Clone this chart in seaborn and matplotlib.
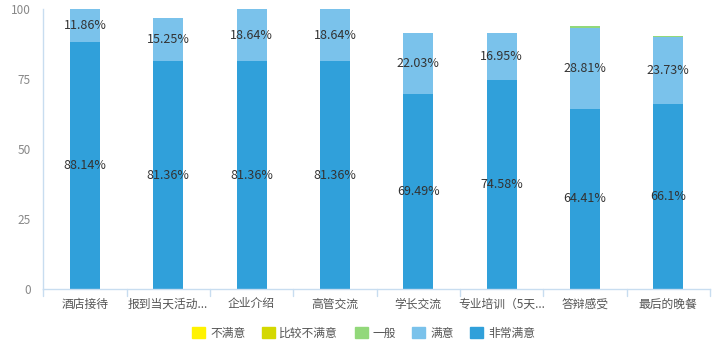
import numpy as np
import pandas as pd
import seaborn as sns
import matplotlib.pyplot as plt

categories = ['酒店接待', '报到当天活动...', '企业介绍', '高管交流', '学长交流', '专业培训（5天...', '答辩感受', '最后的晚餐']
series = ['不满意', '比较不满意', '一般', '满意', '非常满意']
colors = ['#FFF200', '#D4D800', '#92D87A', '#7AC2EB', '#30A0DA']

very_satisfied = [88.14, 81.36, 81.36, 81.36, 69.49, 74.58, 64.41, 66.1]
satisfied = [11.86, 15.25, 18.64, 18.64, 22.03, 16.95, 28.81, 23.73]
neutral = [0, 0, 0, 0, 0, 0, 0.6, 0.5]
dissatisfied_some = [0, 0, 0, 0, 0, 0, 0, 0]
dissatisfied = [0, 0, 0, 0, 0, 0, 0, 0]

sns.set_style('white')
plt.rcParams['font.family'] = ['Noto Sans CJK SC', 'DejaVu Sans']

df = pd.DataFrame({'cat': categories, '非常满意': very_satisfied, '满意': satisfied,
                   '一般': neutral, '比较不满意': dissatisfied_some, '不满意': dissatisfied})

fig = plt.figure(figsize=(7.2, 3.6), dpi=100)
ax = fig.add_axes([0.06, 0.197, 0.926, 0.778])

bottom = np.zeros(len(categories))
stack = ['非常满意', '满意', '一般']
col_map = dict(zip(series, colors))
for name in stack:
    vals = df[name].to_numpy()
    sns.barplot(data=df, x='cat', y=name, color=col_map[name], bottom=bottom,
                width=0.36, saturation=1, ax=ax, linewidth=0)
    if name in ('非常满意', '满意'):
        for i, v in enumerate(vals):
            txt = f'{v:g}%' if v == round(v, 1) else f'{v:.2f}%'
            ax.text(i, bottom[i] + v / 2, txt, ha='center', va='center',
                    fontsize=9, color='#333333')
    bottom = bottom + vals

ax.set_ylim(0, 100)
ax.set_xlim(-0.5, len(categories) - 0.5)
ax.set_yticks([0, 25, 50, 75, 100])
ax.set_xlabel('')
ax.set_ylabel('')
ax.tick_params(axis='y', length=0, labelsize=8.5, labelcolor='#888888', pad=9)
ax.tick_params(axis='x', length=0, labelsize=8.5, labelcolor='#555555', pad=6)
for s in ['top', 'right']:
    ax.spines[s].set_visible(False)
for s in ['left', 'bottom']:
    ax.spines[s].set_color('#C8DDF0')
    ax.spines[s].set_linewidth(1)
for b in np.arange(-0.5, len(categories), 1):
    ax.plot([b, b], [0, -2.5], color='#C8DDF0', lw=1, clip_on=False)

handles = [plt.Rectangle((0, 0), 1, 1, color=c) for c in colors]
fig.legend(handles, series, loc='center', bbox_to_anchor=(0.505, 0.075), ncol=5,
           frameon=False, fontsize=8.5, handlelength=1.1, handleheight=1.1,
           handletextpad=0.4, columnspacing=1.4, labelcolor='#555555')

fig.savefig('out.png', dpi=100)
